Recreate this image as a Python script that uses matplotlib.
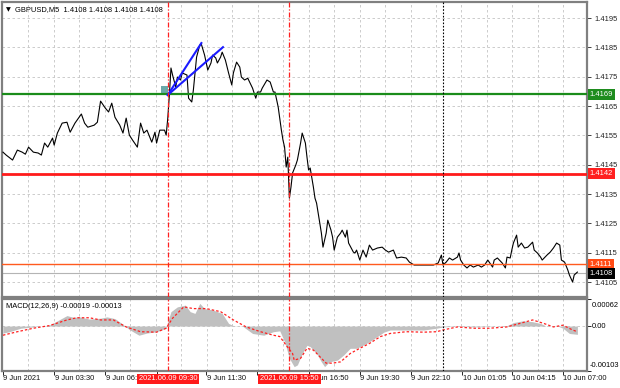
import numpy as np
import matplotlib
matplotlib.use("Agg")
import matplotlib.pyplot as plt
from matplotlib.patches import Rectangle
from matplotlib.transforms import Bbox

plt.rcParams['font.family'] = ['Liberation Sans', 'DejaVu Sans']

# ---------------- data ----------------
price_bars = [0, 2, 6, 9, 12, 14, 16, 19, 22, 24, 26, 28, 31, 32, 34, 37, 40, 42, 45, 49,
              51, 53, 57, 59, 61, 64, 66, 68, 70, 73, 75, 77, 79, 81, 84, 86, 88, 90, 93, 95,
              96, 98, 101, 102, 103, 104, 105, 106, 108, 109, 111, 112, 115, 116, 118, 119, 121, 123, 124, 126,
              128, 130, 131, 133, 134, 136, 137, 139, 141, 143, 144, 146, 148, 149, 151, 153, 156, 158, 159, 161,
              162, 165, 167, 169, 170, 172, 174, 175, 176, 177, 178, 179, 180, 181, 183, 184, 186, 187, 189, 190,
              191, 192, 194, 195, 196, 197, 199, 200, 202, 203, 205, 206, 207, 209, 211, 212, 214, 215, 216, 219,
              220, 221, 223, 225, 227, 229, 231, 234, 237, 239, 241, 244, 246, 249, 252, 254, 257, 261, 265, 269,
              272, 274, 275, 277, 279, 281, 284, 285, 286, 288, 290, 292, 294, 297, 299, 301, 303, 306, 307, 309,
              312, 314, 315, 317, 318, 319, 321, 322, 324, 326, 328, 331, 332, 334, 336, 337, 340, 342, 344, 346,
              348, 349, 351, 353, 354, 356, 357, 359]
price_vals = [1.41493, 1.41483, 1.41466, 1.41500, 1.41493, 1.41486, 1.41510, 1.41493, 1.41490, 1.41483,
              1.41524, 1.41510, 1.41541, 1.41517, 1.41558, 1.41592, 1.41595, 1.41561, 1.41592, 1.41623,
              1.41592, 1.41578, 1.41585, 1.41595, 1.41667, 1.41643, 1.41630, 1.41660, 1.41612, 1.41585,
              1.41558, 1.41609, 1.41551, 1.41534, 1.41510, 1.41592, 1.41558, 1.41568, 1.41527, 1.41561,
              1.41524, 1.41568, 1.41568, 1.41551, 1.41609, 1.41688, 1.41780, 1.41756, 1.41715, 1.41749,
              1.41739, 1.41763, 1.41756, 1.41677, 1.41664, 1.41705, 1.41817, 1.41858, 1.41861, 1.41824,
              1.41773, 1.41797, 1.41824, 1.41814, 1.41797, 1.41817, 1.41834, 1.41807, 1.41763, 1.41722,
              1.41763, 1.41800, 1.41783, 1.41749, 1.41739, 1.41745, 1.41711, 1.41677, 1.41698, 1.41698,
              1.41711, 1.41739, 1.41732, 1.41698, 1.41698, 1.41647, 1.41568, 1.41534, 1.41510, 1.41442,
              1.41476, 1.41336, 1.41374, 1.41422, 1.41449, 1.41466, 1.41524, 1.41558, 1.41524, 1.41476,
              1.41432, 1.41439, 1.41374, 1.41336, 1.41319, 1.41285, 1.41217, 1.41169, 1.41217, 1.41261,
              1.41227, 1.41203, 1.41159, 1.41203, 1.41217, 1.41227, 1.41203, 1.41227, 1.41183, 1.41152,
              1.41149, 1.41159, 1.41125, 1.41159, 1.41135, 1.41176, 1.41159, 1.41166, 1.41169, 1.41159,
              1.41152, 1.41159, 1.41132, 1.41135, 1.41132, 1.41118, 1.41108, 1.41108, 1.41108, 1.41108,
              1.41115, 1.41142, 1.41108, 1.41118, 1.41132, 1.41125, 1.41135, 1.41149, 1.41125, 1.41108,
              1.41098, 1.41108, 1.41101, 1.41108, 1.41101, 1.41108, 1.41125, 1.41101, 1.41125, 1.41132,
              1.41115, 1.41098, 1.41135, 1.41132, 1.41159, 1.41183, 1.41210, 1.41169, 1.41183, 1.41166,
              1.41169, 1.41186, 1.41159, 1.41149, 1.41135, 1.41125, 1.41142, 1.41152, 1.41166, 1.41183,
              1.41176, 1.41125, 1.41118, 1.41091, 1.41074, 1.41050, 1.41074, 1.41084]

macd_bars = [0, 4, 11, 19, 29, 34, 40, 44, 48, 54, 61, 65, 70, 75, 79, 85, 90, 96, 102, 103,
             105, 109, 114, 117, 120, 123, 126, 131, 137, 141, 144, 150, 156, 163, 169, 173, 176, 179, 182, 184,
             187, 190, 192, 196, 199, 201, 204, 209, 213, 217, 221, 225, 229, 234, 238, 242, 252, 263, 271, 275,
             284, 294, 304, 315, 319, 325, 331, 336, 340, 346, 350, 354, 359]
macd_vals = [-0.00016, -0.00013, -0.00005, -0.00002, 0.00002, 0.00012, 0.00024, 0.00020, 0.00021, 0.00016,
             0.00018, 0.00021, 0.00017, 0.00004, -0.00008, -0.00021, -0.00016, -0.00013, -0.00005, 0.00010,
             0.00033, 0.00044, 0.00048, 0.00033, 0.00029, 0.00052, 0.00040, 0.00037, 0.00029, 0.00006,
             0.00001, -0.00001, -0.00017, -0.00021, -0.00013, -0.00011, -0.00036, -0.00074, -0.00093, -0.00089,
             -0.00063, -0.00044, -0.00047, -0.00063, -0.00082, -0.00093, -0.00082, -0.00078, -0.00066, -0.00051,
             -0.00051, -0.00044, -0.00036, -0.00024, -0.00014, -0.00009, -0.00009, -0.00009, -0.00005, -0.00002,
             0.00000, -0.00002, -0.00001, 0.00001, 0.00008, 0.00012, 0.00010, 0.00006, -0.00001, 0.00001,
             -0.00005, -0.00017, -0.00019]

signal_bars = [0, 9, 19, 29, 40, 46, 54, 61, 69, 77, 86, 96, 102, 106, 113, 119, 127, 136, 144, 152,
               161, 169, 173, 177, 181, 182, 186, 190, 194, 198, 202, 206, 211, 217, 223, 229, 236, 242, 252, 263,
               271, 275, 284, 294, 304, 315, 325, 331, 338, 344, 350, 356, 359]
signal_vals = [-0.00021, -0.00013, -0.00005, 0.00001, 0.00014, 0.00019, 0.00019, 0.00014, 0.00014, -0.00002,
               -0.00013, -0.00014, -0.00005, 0.00018, 0.00044, 0.00040, 0.00040, 0.00033, 0.00014, -0.00002,
               -0.00013, -0.00021, -0.00024, -0.00044, -0.00063, -0.00078, -0.00074, -0.00051, -0.00055, -0.00070,
               -0.00085, -0.00085, -0.00082, -0.00063, -0.00051, -0.00040, -0.00024, -0.00017, -0.00013, -0.00014,
               -0.00013, -0.00009, -0.00002, -0.00005, -0.00005, -0.00002, 0.00008, 0.00014, 0.00006, -0.00002,
               0.00002, -0.00009, -0.00013]

tick_bars = [0, 32, 64, 96, 127, 159, 191, 223, 255, 287, 318, 350]
tick_labels = ["9 Jun 2021", "9 Jun 03:30", "9 Jun 06:10", "9 Jun 08:50", "9 Jun 11:30", "9 Jun 14:10",
               "9 Jun 16:50", "9 Jun 19:30", "9 Jun 22:10", "10 Jun 01:05", "10 Jun 04:15", "10 Jun 07:00"]
grid_step_bars = 15.92

price_ticks = [1.4105, 1.4115, 1.4125, 1.4135, 1.4145, 1.4155, 1.4165, 1.4175, 1.4185, 1.4195]

level_prices = [1.4169, 1.4142, 1.4111, 1.4108]
level_labels = ["1.4169", "1.4142", "1.4111", "1.4108"]

event_bars = [103, 179]
event_labels = ["2021.06.09 09:30", "2021.06.09 15:50"]
cursor_bar = 275

trend_bars = [(103, 124), (103, 137.5)]
trend_prices = [(1.41688, 1.41865), (1.41688, 1.41851)]
zone_bars = (98.8, 103.1)
zone_prices = (1.4169, 1.41718)

title_text = "GBPUSD,M5  1.4108 1.4108 1.4108 1.4108"
macd_title = "MACD(12,26,9) -0.00019 -0.00013"
macd_top, macd_bottom = 0.00062, -0.00103

# ---------------- figure ----------------
W, H = 620, 388
fig = plt.figure(figsize=(W / 100, H / 100), dpi=100)
ax = fig.add_axes([2 / W, 91 / H, 585 / W, 295 / H])
ax2 = fig.add_axes([2 / W, 17 / H, 585 / W, 72 / H], sharex=ax)

xmin, xmax = -0.6, 365.0
fs = 5.4
grid_kw = dict(color='#c4c4c4', lw=0.6, ls=(0, (3, 3)), zorder=0)

for a in (ax, ax2):
    for s in a.spines.values():
        s.set_color('#808080')
        s.set_linewidth(1.6)
    a.set_xlim(xmin, xmax)
    k = 1
    while k * grid_step_bars < xmax:
        a.axvline(k * grid_step_bars, **grid_kw)
        k += 1

# ---- main panel ----
ax.set_ylim(1.40999, 1.42005)
for p in price_ticks:
    ax.axhline(p, **grid_kw)
ax.plot(price_bars, price_vals, color='black', lw=0.8, zorder=3)

ax.axhline(level_prices[0], color='#1a8c1a', lw=1.6, zorder=4)
ax.axhline(level_prices[1], color='#ff1a1a', lw=2.0, zorder=4)
ax.axhline(level_prices[2], color='#ff5a1e', lw=1.0, zorder=4)
ax.axhline(level_prices[3], color='#b4b4b4', lw=0.8, zorder=2)

ax.add_patch(Rectangle((zone_bars[0], zone_prices[0]), zone_bars[1] - zone_bars[0],
                       zone_prices[1] - zone_prices[0], facecolor='#4f9a9a', alpha=0.85,
                       edgecolor='none', zorder=3))
for (b0, b1), (p0, p1) in zip(trend_bars, trend_prices):
    ax.plot([b0, b1], [p0, p1], color='#1a1aff', lw=1.5, zorder=5)

for a in (ax, ax2):
    for b in event_bars:
        a.axvline(b, color='#ff2020', lw=0.9, ls=(0, (4, 1.5, 1, 1.5)), zorder=6)
    a.axvline(cursor_bar, color='black', lw=0.8, ls=(0, (1.5, 1.5)), zorder=6)

ax.yaxis.tick_right()
ax.set_yticks(price_ticks)
ax.set_yticklabels([f"{p:.4f}" for p in price_ticks])
ax.tick_params(axis='y', length=3, width=0.6, pad=2, labelsize=fs, colors='#222222')
ax.tick_params(axis='x', bottom=False, labelbottom=False)

level_colors = ['#1e8c1e', '#ff2020', '#ff4a14', '#000000']
for p, lab, c in zip(level_prices, level_labels, level_colors):
    ax.text(1.0045, p, lab, transform=ax.get_yaxis_transform(), ha='left', va='center',
            fontsize=fs, color='white', zorder=10, clip_on=False,
            bbox=dict(boxstyle='square,pad=0.25', facecolor=c, edgecolor='none'))

ax.text(0.006, 0.974, "\u25bc", transform=ax.transAxes, fontsize=4.5, ha='left', va='center',
        family=['DejaVu Sans'])
ax.text(0.022, 0.974, title_text, transform=ax.transAxes, fontsize=fs, ha='left', va='center')

# ---- MACD panel ----
ax2.set_ylim(macd_bottom, macd_top)
ax2.axhline(0, color='#c4c4c4', lw=0.6, ls=(0, (3, 3)), zorder=0)
ax2.fill_between(macd_bars, 0, macd_vals, color='#c0c0c0', lw=0, zorder=2)
ax2.plot(signal_bars, signal_vals, color='#ff2020', lw=0.9, ls=(0, (2, 1.6)), zorder=3)
ax2.text(0.006, 0.9, macd_title, transform=ax2.transAxes, fontsize=fs, ha='left', va='center', zorder=7)

ax2.yaxis.tick_right()
ax2.set_yticks([macd_top, 0.0, macd_bottom])
ax2.set_yticklabels(["", "", ""])
ax2.tick_params(axis='y', length=3, width=0.6, pad=2, labelsize=fs)
ytr = ax2.get_yaxis_transform()
ax2.text(1.008, 0.915, f"{macd_top:.5f}", transform=ax2.transAxes, fontsize=fs, ha='left', va='center')
ax2.text(1.008, 0.0, "0.00", transform=ytr, fontsize=fs, ha='left', va='center')
ax2.text(1.004, 0.075, f"{macd_bottom:.5f}", transform=ax2.transAxes, fontsize=fs, ha='left', va='center')

ax2.set_xticks(tick_bars)
ax2.set_xticklabels([])
ax2.tick_params(axis='x', length=3, width=0.6, direction='out', pad=1)
xtr = ax2.get_xaxis_transform()
label_texts = []
for b, lab in zip(tick_bars, tick_labels):
    t = ax2.text(b + 0.3, -0.11, lab, transform=xtr, fontsize=fs, ha='left', va='center',
                 clip_on=False, zorder=5, color='#111111')
    label_texts.append(t)
event_texts = []
for b, lab in zip(event_bars, event_labels):
    t = ax2.text(b, -0.11, lab, transform=xtr, fontsize=fs, ha='center', va='center', color='white',
                 clip_on=False, zorder=8,
                 bbox=dict(boxstyle='square,pad=0.25', facecolor='#ff1a1a', edgecolor='none'))
    event_texts.append(t)

# hide the parts of time labels that lie under the red event boxes (as the terminal does)
fig.canvas.draw()
renderer = fig.canvas.get_renderer()
boxes = [t.get_bbox_patch().get_window_extent(renderer) for t in event_texts]
for t in label_texts:
    ext = t.get_window_extent(renderer)
    for e in boxes:
        if ext.x1 <= e.x0 or ext.x0 >= e.x1:
            continue
        if ext.x0 >= e.x0 - 1 and ext.x1 <= e.x1 + 1:
            t.set_visible(False)
        elif ext.x0 < e.x0:
            t.set_clip_box(Bbox([[0, 0], [e.x0, H]]))
            t.set_clip_on(True)
        else:
            t.set_clip_box(Bbox([[e.x1, 0], [W, H]]))
            t.set_clip_on(True)

fig.savefig("out.png", dpi=100)
